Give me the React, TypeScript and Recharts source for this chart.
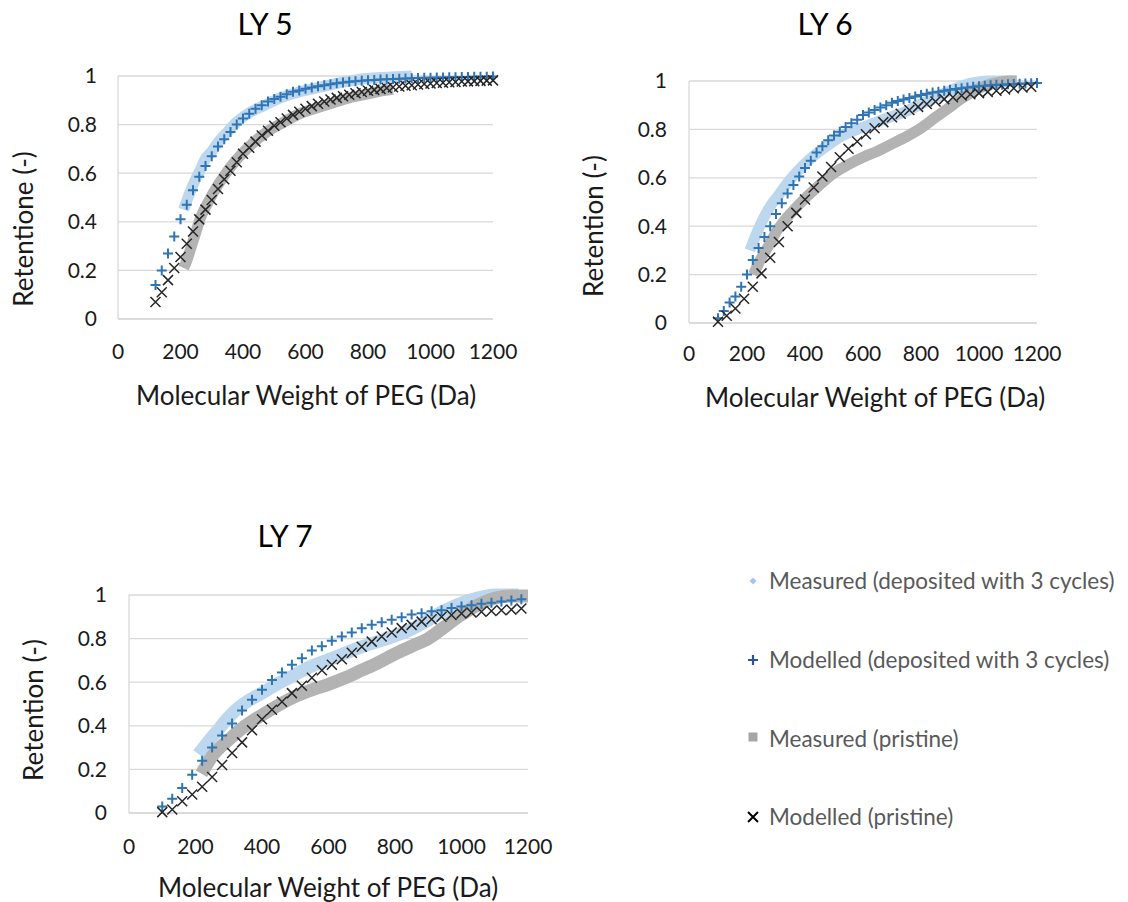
import React from 'react';
import { ComposedChart, Line, Scatter, XAxis, YAxis, CartesianGrid, Label } from 'recharts';

const FONT = 'Lato, "Open Sans", sans-serif';
const BLUE_BAND = '#bdd7ee';
const GREY_BAND = '#b3b3b3';
const PLUS_COLOR = '#2e75b6';
const CROSS_COLOR = '#262626';
const GRID = '#d9d9d9';

const xTicks = [0, 200, 400, 600, 800, 1000, 1200];
const yTicks = [0, 0.2, 0.4, 0.6, 0.8, 1];

// ---- LY 5 ----
const ly5ModelMw = [120, 140, 160, 180, 200, 220, 240, 260, 280, 300, 320, 340, 360, 380, 400, 420, 440, 460, 480, 500, 520, 540, 560, 580, 600, 620, 640, 660, 680, 700, 720, 740, 760, 780, 800, 820, 840, 860, 880, 900, 920, 940, 960, 980, 1000, 1020, 1040, 1060, 1080, 1100, 1120, 1140, 1160, 1180, 1200];
const ly5ModelDep = [0.14, 0.2, 0.27, 0.34, 0.41, 0.47, 0.53, 0.585, 0.63, 0.67, 0.71, 0.74, 0.77, 0.8, 0.825, 0.845, 0.865, 0.88, 0.895, 0.905, 0.915, 0.925, 0.935, 0.94, 0.948, 0.953, 0.958, 0.962, 0.966, 0.97, 0.973, 0.976, 0.978, 0.98, 0.982, 0.984, 0.986, 0.987, 0.988, 0.989, 0.99, 0.991, 0.992, 0.993, 0.993, 0.994, 0.994, 0.995, 0.995, 0.996, 0.996, 0.997, 0.997, 0.997, 0.998];
const ly5ModelPri = [0.07, 0.11, 0.16, 0.21, 0.255, 0.31, 0.36, 0.41, 0.45, 0.49, 0.535, 0.575, 0.61, 0.645, 0.68, 0.705, 0.73, 0.755, 0.775, 0.795, 0.81, 0.825, 0.84, 0.853, 0.865, 0.876, 0.886, 0.895, 0.903, 0.91, 0.917, 0.923, 0.929, 0.934, 0.939, 0.943, 0.947, 0.951, 0.954, 0.957, 0.96, 0.962, 0.965, 0.967, 0.969, 0.971, 0.972, 0.974, 0.975, 0.977, 0.978, 0.979, 0.98, 0.981, 0.982];
const ly5MeasDepMw = [210, 230, 250, 262, 280, 300, 316, 350, 380, 422, 470, 520, 582, 650, 720, 796, 860, 940];
const ly5MeasDep = [0.45, 0.52, 0.58, 0.61, 0.66, 0.69, 0.72, 0.77, 0.81, 0.85, 0.88, 0.91, 0.935, 0.955, 0.975, 0.99, 0.995, 1.0];
const ly5MeasPriMw = [210, 220, 235, 250, 262, 280, 305, 340, 369, 420, 476, 530, 582, 640, 689, 740, 796, 850, 880];
const ly5MeasPri = [0.21, 0.24, 0.3, 0.36, 0.41, 0.46, 0.52, 0.59, 0.64, 0.71, 0.77, 0.81, 0.845, 0.87, 0.89, 0.91, 0.925, 0.94, 0.945];

// ---- LY 6 ----
const ly6PlusMw = [100, 120, 140, 160, 180, 200, 220, 240, 260, 280, 300, 320, 340, 360, 380, 400, 420, 440, 460, 480, 500, 520, 540, 560, 580, 600, 620, 640, 660, 680, 700, 720, 740, 760, 780, 800, 820, 840, 860, 880, 900, 920, 940, 960, 980, 1000, 1020, 1040, 1060, 1080, 1100, 1120, 1140, 1160, 1180, 1200];
const ly6ModelDep = [0.02, 0.05, 0.085, 0.11, 0.15, 0.2, 0.26, 0.31, 0.355, 0.4, 0.45, 0.495, 0.535, 0.57, 0.605, 0.64, 0.67, 0.705, 0.73, 0.755, 0.775, 0.79, 0.81, 0.825, 0.84, 0.86, 0.87, 0.88, 0.89, 0.9, 0.91, 0.917, 0.924, 0.93, 0.936, 0.942, 0.947, 0.952, 0.956, 0.96, 0.964, 0.967, 0.97, 0.973, 0.976, 0.978, 0.98, 0.982, 0.984, 0.985, 0.987, 0.988, 0.989, 0.99, 0.991, 0.992];
const ly6CrossMw = [100, 130, 160, 190, 220, 250, 280, 310, 340, 370, 400, 430, 460, 490, 520, 550, 580, 610, 640, 670, 700, 730, 760, 790, 820, 850, 880, 910, 940, 970, 1000, 1030, 1060, 1090, 1120, 1150, 1180];
const ly6ModelPri = [0.005, 0.03, 0.06, 0.1, 0.15, 0.205, 0.27, 0.335, 0.4, 0.455, 0.51, 0.56, 0.605, 0.645, 0.685, 0.72, 0.75, 0.78, 0.805, 0.83, 0.85, 0.865, 0.88, 0.893, 0.905, 0.915, 0.925, 0.933, 0.94, 0.945, 0.95, 0.955, 0.96, 0.965, 0.97, 0.973, 0.976];
const ly6MeasDepMw = [210, 240, 279, 310, 337, 365, 393, 420, 451, 480, 509, 560, 624, 680, 739, 800, 854, 910, 969, 1030, 1080, 1130];
const ly6MeasDep = [0.3, 0.39, 0.48, 0.53, 0.575, 0.615, 0.65, 0.68, 0.71, 0.735, 0.76, 0.79, 0.82, 0.845, 0.87, 0.905, 0.935, 0.965, 0.99, 1.0, 1.0, 1.0];
const ly6MeasPriMw = [222, 250, 275, 300, 330, 360, 400, 450, 500, 550, 600, 650, 700, 750, 800, 850, 900, 950, 1000, 1050, 1100, 1130];
const ly6MeasPri = [0.2, 0.27, 0.32, 0.375, 0.425, 0.465, 0.515, 0.57, 0.62, 0.655, 0.685, 0.71, 0.74, 0.77, 0.805, 0.85, 0.893, 0.935, 0.97, 0.99, 1.0, 1.0];

// ---- LY 7 ----
const ly7ModelMw = [100, 130, 160, 190, 220, 250, 280, 310, 340, 370, 400, 430, 460, 490, 520, 550, 580, 610, 640, 670, 700, 730, 760, 790, 820, 850, 880, 910, 940, 970, 1000, 1030, 1060, 1090, 1120, 1150, 1180];
const ly7ModelDep = [0.03, 0.065, 0.115, 0.175, 0.24, 0.3, 0.355, 0.41, 0.47, 0.52, 0.565, 0.61, 0.645, 0.68, 0.71, 0.745, 0.765, 0.79, 0.81, 0.828, 0.848, 0.863, 0.875, 0.886, 0.898, 0.91, 0.916, 0.925, 0.93, 0.94, 0.947, 0.953, 0.96, 0.965, 0.97, 0.975, 0.98];
const ly7ModelPri = [0.004, 0.016, 0.054, 0.085, 0.12, 0.165, 0.22, 0.275, 0.324, 0.38, 0.43, 0.474, 0.51, 0.55, 0.584, 0.62, 0.655, 0.68, 0.705, 0.735, 0.763, 0.786, 0.81, 0.828, 0.848, 0.863, 0.878, 0.889, 0.9, 0.908, 0.915, 0.92, 0.923, 0.927, 0.93, 0.933, 0.938];
const ly7MeasDepMw = [209, 243, 270, 294, 320, 344, 370, 400, 444, 494, 544, 595, 645, 695, 745, 795, 845, 895, 945, 995, 1046, 1100, 1171];
const ly7MeasDep = [0.27, 0.336, 0.385, 0.43, 0.47, 0.5, 0.525, 0.55, 0.59, 0.63, 0.67, 0.7, 0.73, 0.76, 0.785, 0.81, 0.84, 0.88, 0.925, 0.96, 0.985, 1.0, 1.0];
const ly7MeasPriMw = [218, 250, 300, 350, 400, 450, 500, 550, 600, 650, 700, 750, 800, 850, 900, 950, 1000, 1050, 1100, 1150, 1200];
const ly7MeasPri = [0.18, 0.26, 0.336, 0.4, 0.45, 0.495, 0.535, 0.565, 0.59, 0.62, 0.655, 0.69, 0.73, 0.765, 0.8, 0.855, 0.91, 0.955, 0.985, 0.995, 0.995];

const pts = (xs: number[], ys: number[]) => xs.map((x, i) => ({ x, y: ys[i] }));

const PlusShape = (p: any) => (
  <path d={`M${p.cx - 5},${p.cy}h10M${p.cx},${p.cy - 5}v10`} stroke={PLUS_COLOR} strokeWidth={2} fill="none" />
);
const CrossShape = (p: any) => (
  <path d={`M${p.cx - 5},${p.cy - 5}l10,10M${p.cx - 5},${p.cy + 5}l10,-10`} stroke={CROSS_COLOR} strokeWidth={1.5} fill="none" />
);

const axisTitle = (text: string, x: number, y: number, angle = 0) => () => (
  <text
    x={x}
    y={y}
    transform={angle ? `rotate(${angle} ${x} ${y})` : undefined}
    textAnchor="middle"
    dominantBaseline="central"
    fontSize={26}
    fill="#1a1a1a"
    fontFamily={FONT}
  >
    {text}
  </text>
);

type PanelProps = {
  title: string;
  titleX: number;
  titleY: number;
  yLabel: string;
  yLabelPos: [number, number];
  xLabelPos: [number, number];
  left: number;
  top: number;
  width: number;
  height: number;
  plot: [number, number, number, number]; // left, right, top, bottom (page px)
  yGap: number;
  xGap: number;
  band: number;
  measDep: { x: number; y: number }[];
  measPri: { x: number; y: number }[];
  modDep: { x: number; y: number }[];
  modPri: { x: number; y: number }[];
};

const Panel = (p: PanelProps) => {
  const [pl, pr, pt, pb] = p.plot;
  const xh = 60;
  const margin = {
    left: 0,
    right: p.left + p.width - pr,
    top: pt - p.top,
    bottom: p.top + p.height - pb - xh,
  };
  const tick = { fontSize: 21, fill: '#1a1a1a', fontFamily: FONT };
  return (
    <>
      <div
        style={{
          position: 'absolute',
          left: p.titleX - 100,
          top: p.titleY - 20,
          width: 200,
          height: 40,
          lineHeight: '40px',
          textAlign: 'center',
          fontFamily: FONT,
          fontSize: 30,
          color: '#000',
        }}
      >
        {p.title}
      </div>
      <div style={{ position: 'absolute', left: p.left, top: p.top }}>
        <ComposedChart width={p.width} height={p.height} margin={margin}>
          <CartesianGrid vertical={false} stroke={GRID} strokeWidth={1.3} />
          <XAxis
            dataKey="x"
            type="number"
            domain={[0, 1200]}
            ticks={xTicks}
            interval={0}
            height={xh}
            tickLine={false}
            tickSize={0}
            tickMargin={p.xGap}
            axisLine={{ stroke: GRID, strokeWidth: 1.3 }}
            tick={tick}
          >
            <Label content={axisTitle('Molecular Weight of PEG (Da)', p.xLabelPos[0] - p.left, p.xLabelPos[1] - p.top)} />
          </XAxis>
          <YAxis
            dataKey="y"
            type="number"
            domain={[0, 1]}
            ticks={yTicks}
            interval={0}
            width={pl - p.left}
            tickLine={false}
            tickSize={0}
            tickMargin={p.yGap}
            axisLine={{ stroke: GRID, strokeWidth: 1.3 }}
            tick={tick}
          >
            <Label content={axisTitle(p.yLabel, p.yLabelPos[0] - p.left, p.yLabelPos[1] - p.top, -90)} />
          </YAxis>
          <Line
            data={p.measDep}
            dataKey="y"
            type="monotone"
            stroke={BLUE_BAND}
            strokeWidth={p.band}
            dot={false}
            activeDot={false}
            isAnimationActive={false}
          />
          <Line
            data={p.measPri}
            dataKey="y"
            type="monotone"
            stroke={GREY_BAND}
            strokeWidth={p.band}
            dot={false}
            activeDot={false}
            isAnimationActive={false}
          />
          <Scatter data={p.modDep} shape={PlusShape} isAnimationActive={false} />
          <Scatter data={p.modPri} shape={CrossShape} isAnimationActive={false} />
        </ComposedChart>
      </div>
    </>
  );
};

const legendItems = [
  { label: 'Measured (deposited with 3 cycles)', kind: 'diamond', y: 581 },
  { label: 'Modelled (deposited with 3 cycles)', kind: 'plus', y: 660 },
  { label: 'Measured (pristine)', kind: 'square', y: 739 },
  { label: 'Modelled (pristine)', kind: 'cross', y: 817 },
];

const LegendIcon = ({ kind }: { kind: string }) => (
  <svg width={16} height={16} style={{ position: 'absolute', left: 0, top: 0 }}>
    {kind === 'diamond' && <path d="M8,4.5L11.5,8L8,11.5L4.5,8Z" fill="#a9c4ea" />}
    {kind === 'plus' && <path d="M3,8h10M8,3v10" stroke="#2f5597" strokeWidth={2.2} fill="none" />}
    {kind === 'square' && <rect x={3.5} y={1.5} width={9} height={9} fill="#a6a6a6" />}
    {kind === 'cross' && <path d="M3,3l10,10M3,13l10,-10" stroke="#000" strokeWidth={2} fill="none" />}
  </svg>
);

export default function App() {
  return (
    <div style={{ position: 'absolute', left: 0, top: 0, width: 1128, height: 902, background: '#fff' }}>
      <Panel
        title="LY 5"
        titleX={265}
        titleY={23}
        yLabel="Retentione (-)"
        yLabelPos={[23, 229]}
        xLabelPos={[306, 395]}
        left={0}
        top={0}
        width={520}
        height={420}
        plot={[118, 493, 76, 319]}
        yGap={21}
        xGap={25}
        band={11}
        measDep={pts(ly5MeasDepMw, ly5MeasDep)}
        measPri={pts(ly5MeasPriMw, ly5MeasPri)}
        modDep={pts(ly5ModelMw, ly5ModelDep)}
        modPri={pts(ly5ModelMw, ly5ModelPri)}
      />
      <Panel
        title="LY 6"
        titleX={825}
        titleY={23}
        yLabel="Retention (-)"
        yLabelPos={[593, 226]}
        xLabelPos={[875, 397]}
        left={560}
        top={0}
        width={520}
        height={420}
        plot={[689, 1037, 81, 323]}
        yGap={22}
        xGap={23}
        band={11}
        measDep={pts(ly6MeasDepMw, ly6MeasDep)}
        measPri={pts(ly6MeasPriMw, ly6MeasPri)}
        modDep={pts(ly6PlusMw, ly6ModelDep)}
        modPri={pts(ly6CrossMw, ly6ModelPri)}
      />
      <Panel
        title="LY 7"
        titleX={285}
        titleY={535}
        yLabel="Retention (-)"
        yLabelPos={[33, 710]}
        xLabelPos={[328, 887]}
        left={0}
        top={500}
        width={560}
        height={402}
        plot={[129, 528, 595, 813]}
        yGap={22}
        xGap={26}
        band={13}
        measDep={pts(ly7MeasDepMw, ly7MeasDep)}
        measPri={pts(ly7MeasPriMw, ly7MeasPri)}
        modDep={pts(ly7ModelMw, ly7ModelDep)}
        modPri={pts(ly7ModelMw, ly7ModelPri)}
      />
      {legendItems.map((it) => (
        <div key={it.label} style={{ position: 'absolute', left: 745, top: it.y - 8, height: 16, width: 380 }}>
          <LegendIcon kind={it.kind} />
          <span
            style={{
              position: 'absolute',
              left: 24,
              top: -6,
              lineHeight: '28px',
              fontSize: 22.5,
              fontFamily: FONT,
              color: '#595959',
              whiteSpace: 'nowrap',
            }}
          >
            {it.label}
          </span>
        </div>
      ))}
    </div>
  );
}
